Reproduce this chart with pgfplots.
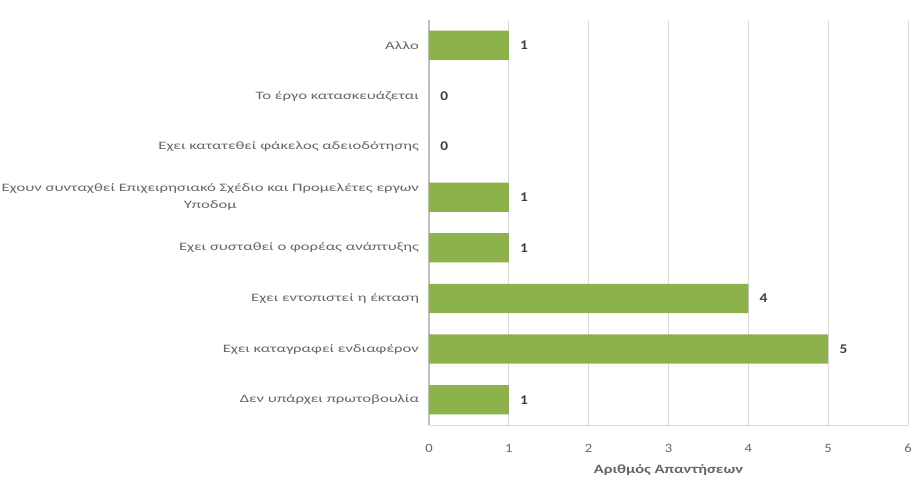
\documentclass[border=0pt]{standalone}
\usepackage{pgfplots}
\pgfplotsset{compat=1.18}
\usepackage{fontspec}
\setmainfont{Carlito}
\newfontfamily\widefont[FakeStretch=1.47]{Carlito}
\newfontfamily\midfont[FakeStretch=1.15]{Carlito}
\newfontfamily\labfont[FakeStretch=1.3]{Carlito}
\definecolor{bargreen}{HTML}{8DB24C}
\definecolor{txtgray}{HTML}{666666}
\definecolor{gridgray}{HTML}{D9D9D9}
\definecolor{axgray}{HTML}{BFBFBF}
\begin{document}
\begin{tikzpicture}[x=1pt,y=1pt]
\useasboundingbox (0,0) rectangle (690.75,360.75);
\begin{axis}[
  at={(321.75pt,42pt)}, anchor=south west,
  scale only axis,
  width=359.25pt, height=303.75pt,
  xbar, bar width=22pt,
  xmin=0, xmax=6, xtick={0,1,2,3,4,5,6},
  ymin=-0.5, ymax=7.5,
  ytick={0,1,2,3,4,5,6,7},
  yticklabels={Δεν υπάρχει πρωτοβουλία, Εχει καταγραφεί ενδιαφέρον, Εχει εντοπιστεί η έκταση, Εχει συσταθεί ο φορέας ανάπτυξης, {Εχουν συνταχθεί Επιχειρησιακό Σχέδιο και Προμελέτες εργων\\Υποδομ}, Εχει κατατεθεί φάκελος αδειοδότησης, Το έργο κατασκευάζεται, Αλλο},
  yticklabel style={align=center, font=\widefont\fontsize{8.5}{12.5}\selectfont, text=txtgray, xshift=-4pt},
  xticklabel style={font=\midfont\fontsize{9.5}{11}\selectfont, text=txtgray, yshift=-11pt},
  /pgf/number format/assume math mode=true,
  major tick length=0pt,
  xmajorgrids, grid style={gridgray, line width=0.6pt},
  axis lines*=left,
  x axis line style={-, draw=gridgray, line width=0.6pt},
  y axis line style={-, draw=axgray, line width=0.8pt},
  xlabel={Αριθμός Απαντήσεων},
  xlabel style={font=\labfont\fontsize{9.5}{11}\selectfont\bfseries, text=txtgray, yshift=-2pt},
  nodes near coords,
  nodes near coords style={font=\midfont\fontsize{10}{11}\selectfont\bfseries, text=black!75, xshift=5pt},
  clip=false,
]
\addplot[fill=bargreen, draw=none] coordinates {(1,0) (5,1) (4,2) (1,3) (1,4) (0,5) (0,6) (1,7)};
\end{axis}
\end{tikzpicture}
\end{document}
